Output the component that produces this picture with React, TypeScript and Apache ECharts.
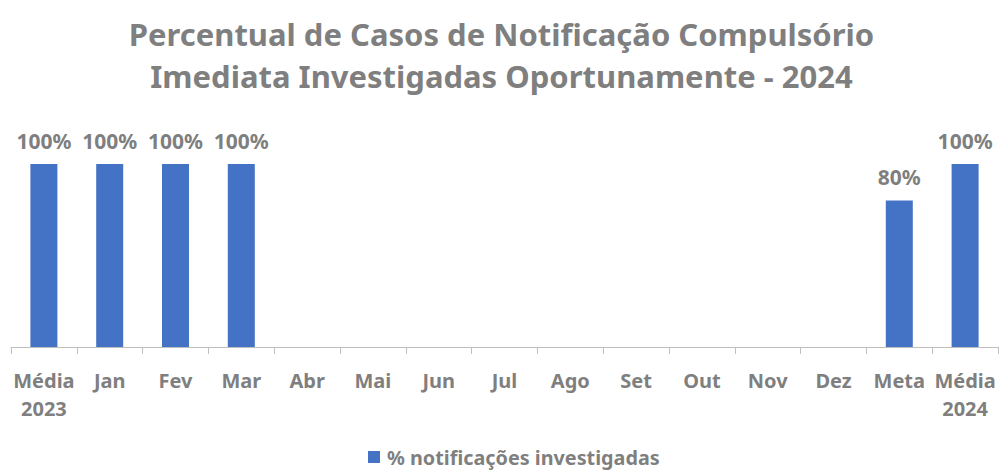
import React, { useEffect, useRef } from "react";
import * as echarts from "echarts";

const categories = ["Média\n2023", "Jan", "Fev", "Mar", "Abr", "Mai", "Jun", "Jul", "Ago", "Set", "Out", "Nov", "Dez", "Meta", "Média\n2024"];
const values: (number | null)[] = [100, 100, 100, 100, null, null, null, null, null, null, null, null, null, 80, 100];
const seriesName = "% notificações investigadas";
const titleText = "Percentual de Casos de Notificação Compulsório\nImediata Investigadas Oportunamente - 2024";

export default function App() {
  const ref = useRef<HTMLDivElement>(null);
  useEffect(() => {
    const chart = echarts.init(ref.current!, null, { renderer: "svg" });
    const font = "'Noto Sans', sans-serif";
    const gray = "#7f7f7f";
    chart.setOption({
      animation: false,
      title: {
        text: titleText,
        left: "center",
        top: 8,
        textStyle: { fontFamily: font, fontSize: 31, fontWeight: "bold", color: gray, lineHeight: 42 },
      },
      legend: {
        bottom: 0,
        left: 363,
        itemWidth: 12,
        itemHeight: 12,
        itemGap: 10,
        textStyle: { fontFamily: font, fontSize: 19.8, fontWeight: "bold", color: gray, padding: [0, 0, 0, 2] },
        data: [{ name: seriesName, icon: "rect" }],
      },
      grid: { left: 11, right: 5, top: 164, bottom: 125, containLabel: false },
      xAxis: {
        type: "category",
        data: categories,
        axisLine: { lineStyle: { color: "#bfbfbf", width: 1 } },
        axisTick: { show: true, length: 7, lineStyle: { color: "#bfbfbf" } },
        axisLabel: {
          interval: 0,
          margin: 19,
          fontFamily: font,
          fontSize: 20,
          fontWeight: "bold",
          color: gray,
          lineHeight: 28,
        },
      },
      yAxis: { type: "value", min: 0, max: 100, show: false, splitLine: { show: false } },
      series: [
        {
          name: seriesName,
          type: "bar",
          data: values,
          barWidth: 27,
          itemStyle: { color: "#4472c4" },
          label: {
            show: true,
            position: "top",
            distance: 13,
            formatter: "{c}%",
            fontFamily: font,
            fontSize: 21,
            fontWeight: "bold",
            color: gray,
          },
        },
      ],
    });
    return () => chart.dispose();
  }, []);
  return <div ref={ref} style={{ width: 1003, height: 472, position: "absolute", left: 0, top: 0 }} />;
}
